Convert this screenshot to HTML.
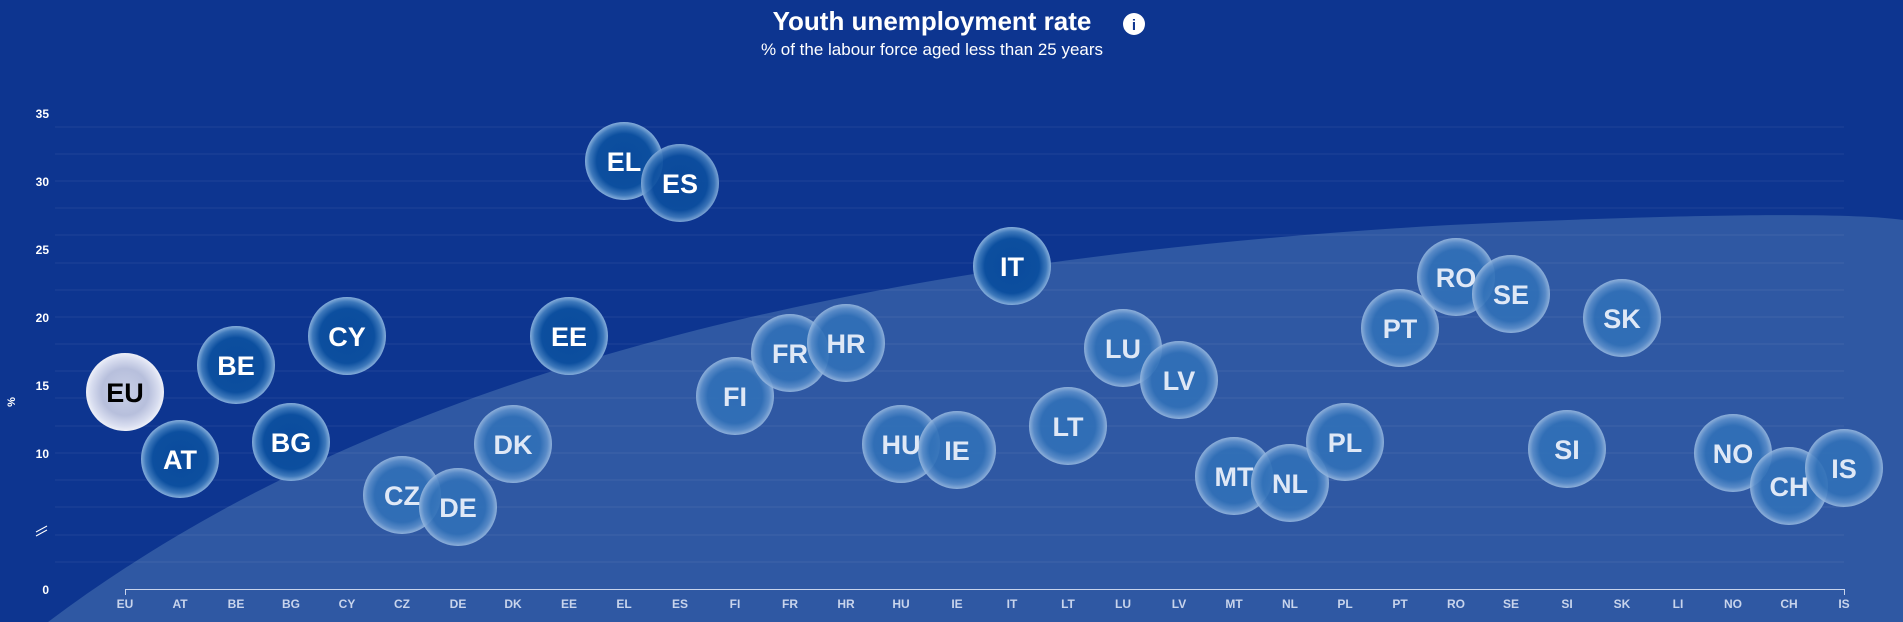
<!DOCTYPE html>
<html><head><meta charset="utf-8"><style>
html,body{margin:0;padding:0;background:#0d3590;}
svg{display:block;font-family:"Liberation Sans",Arial,sans-serif;}
</style></head><body>
<svg width="1903" height="622" viewBox="0 0 1903 622" xmlns="http://www.w3.org/2000/svg">
<defs>
<radialGradient id="dk" cx="50%" cy="50%" r="50%">
<stop offset="0%" stop-color="#0a4a9c"/><stop offset="70%" stop-color="#0c4f9f"/><stop offset="88%" stop-color="#3d78bb"/><stop offset="100%" stop-color="#86aedb"/>
</radialGradient>
<radialGradient id="lt" cx="50%" cy="50%" r="50%">
<stop offset="0%" stop-color="#2f6fb8"/><stop offset="70%" stop-color="#3171b8"/><stop offset="88%" stop-color="#5c8fcb"/><stop offset="100%" stop-color="#98b9e0"/>
</radialGradient>
<radialGradient id="eu" cx="50%" cy="50%" r="50%">
<stop offset="0%" stop-color="#c8cfe6"/><stop offset="60%" stop-color="#b7bfdc"/><stop offset="88%" stop-color="#d9def0"/><stop offset="100%" stop-color="#eef0f8"/>
</radialGradient>
</defs>
<rect width="1903" height="622" fill="#0d3590"/>
<path d="M48 622 C 350 395, 790 262, 1450 225 C 1680 214, 1850 212, 1903 220 L1903 622 Z" fill="#2f58a3"/>
<g stroke="#ffffff" stroke-opacity="0.08" stroke-width="1">
<line x1="55" x2="1844" y1="127" y2="127"/><line x1="55" x2="1844" y1="154" y2="154"/><line x1="55" x2="1844" y1="181" y2="181"/><line x1="55" x2="1844" y1="208" y2="208"/><line x1="55" x2="1844" y1="235" y2="235"/><line x1="55" x2="1844" y1="263" y2="263"/><line x1="55" x2="1844" y1="290" y2="290"/><line x1="55" x2="1844" y1="317" y2="317"/><line x1="55" x2="1844" y1="344" y2="344"/><line x1="55" x2="1844" y1="371" y2="371"/><line x1="55" x2="1844" y1="398" y2="398"/><line x1="55" x2="1844" y1="426" y2="426"/><line x1="55" x2="1844" y1="453" y2="453"/><line x1="55" x2="1844" y1="480" y2="480"/><line x1="55" x2="1844" y1="507" y2="507"/><line x1="55" x2="1844" y1="535" y2="535"/><line x1="55" x2="1844" y1="562" y2="562"/>
</g>
<g fill="#fff" font-size="12" font-weight="bold" text-anchor="end">
<text x="49" y="118">35</text><text x="49" y="186">30</text><text x="49" y="254">25</text><text x="49" y="322">20</text><text x="49" y="390">15</text><text x="49" y="458">10</text><text x="49" y="594">0</text>
</g>
<g stroke="#fff" stroke-width="1"><line x1="36" y1="532" x2="47" y2="526"/><line x1="36" y1="536" x2="47" y2="530"/></g>
<text x="15" y="402" fill="#fff" font-size="11" font-weight="bold" text-anchor="middle" transform="rotate(-90 15 402)">%</text>
<g stroke="#c8d4ec" stroke-width="1" fill="none"><path d="M125.5 595 V589.5 H1844.5 V595"/></g>
<g fill="#c8d4ec" font-size="12" font-weight="bold" text-anchor="middle">
<text x="125" y="608">EU</text><text x="180" y="608">AT</text><text x="236" y="608">BE</text><text x="291" y="608">BG</text><text x="347" y="608">CY</text><text x="402" y="608">CZ</text><text x="458" y="608">DE</text><text x="513" y="608">DK</text><text x="569" y="608">EE</text><text x="624" y="608">EL</text><text x="680" y="608">ES</text><text x="735" y="608">FI</text><text x="790" y="608">FR</text><text x="846" y="608">HR</text><text x="901" y="608">HU</text><text x="957" y="608">IE</text><text x="1012" y="608">IT</text><text x="1068" y="608">LT</text><text x="1123" y="608">LU</text><text x="1179" y="608">LV</text><text x="1234" y="608">MT</text><text x="1290" y="608">NL</text><text x="1345" y="608">PL</text><text x="1400" y="608">PT</text><text x="1456" y="608">RO</text><text x="1511" y="608">SE</text><text x="1567" y="608">SI</text><text x="1622" y="608">SK</text><text x="1678" y="608">LI</text><text x="1733" y="608">NO</text><text x="1789" y="608">CH</text><text x="1844" y="608">IS</text>
</g>
<g font-size="27" font-weight="bold" text-anchor="middle">
<g fill="url(#dk)"><circle cx="180" cy="459" r="39"/><circle cx="236" cy="365" r="39"/><circle cx="291" cy="442" r="39"/><circle cx="347" cy="336" r="39"/><circle cx="569" cy="336" r="39"/><circle cx="624" cy="161" r="39"/><circle cx="680" cy="183" r="39" fill-opacity="0.92"/><circle cx="1012" cy="266" r="39"/></g>
<g fill="url(#lt)" fill-opacity="0.9"><circle cx="402" cy="495" r="39"/><circle cx="458" cy="507" r="39"/><circle cx="513" cy="444" r="39"/><circle cx="735" cy="396" r="39"/><circle cx="790" cy="353" r="39"/><circle cx="846" cy="343" r="39"/><circle cx="901" cy="444" r="39"/><circle cx="957" cy="450" r="39"/><circle cx="1068" cy="426" r="39"/><circle cx="1123" cy="348" r="39"/><circle cx="1179" cy="380" r="39"/><circle cx="1234" cy="476" r="39"/><circle cx="1290" cy="483" r="39"/><circle cx="1345" cy="442" r="39"/><circle cx="1400" cy="328" r="39"/><circle cx="1456" cy="277" r="39"/><circle cx="1511" cy="294" r="39"/><circle cx="1567" cy="449" r="39"/><circle cx="1622" cy="318" r="39"/><circle cx="1733" cy="453" r="39"/><circle cx="1789" cy="486" r="39"/><circle cx="1844" cy="468" r="39"/></g>
<circle cx="125" cy="392" r="39" fill="url(#eu)"/>
<text x="125" y="402" fill="#000">EU</text>
<g fill="#fff"><text x="180" y="469">AT</text><text x="236" y="375">BE</text><text x="291" y="452">BG</text><text x="347" y="346">CY</text><text x="569" y="346">EE</text><text x="624" y="171">EL</text><text x="680" y="193">ES</text><text x="1012" y="276">IT</text></g>
<g fill="#dfe8f6"><text x="402" y="505">CZ</text><text x="458" y="517">DE</text><text x="513" y="454">DK</text><text x="735" y="406">FI</text><text x="790" y="363">FR</text><text x="846" y="353">HR</text><text x="901" y="454">HU</text><text x="957" y="460">IE</text><text x="1068" y="436">LT</text><text x="1123" y="358">LU</text><text x="1179" y="390">LV</text><text x="1234" y="486">MT</text><text x="1290" y="493">NL</text><text x="1345" y="452">PL</text><text x="1400" y="338">PT</text><text x="1456" y="287">RO</text><text x="1511" y="304">SE</text><text x="1567" y="459">SI</text><text x="1622" y="328">SK</text><text x="1733" y="463">NO</text><text x="1789" y="496">CH</text><text x="1844" y="478">IS</text></g>
</g>
<text x="932" y="30" fill="#fff" font-size="26" font-weight="bold" text-anchor="middle">Youth unemployment rate</text>
<text x="932" y="55" fill="#fff" font-size="17" text-anchor="middle">% of the labour force aged less than 25 years</text>
<circle cx="1134" cy="24" r="11" fill="#fff"/>
<text x="1134" y="30" fill="#0d3590" font-size="15" font-weight="bold" text-anchor="middle">i</text>
</svg>
</body></html>
